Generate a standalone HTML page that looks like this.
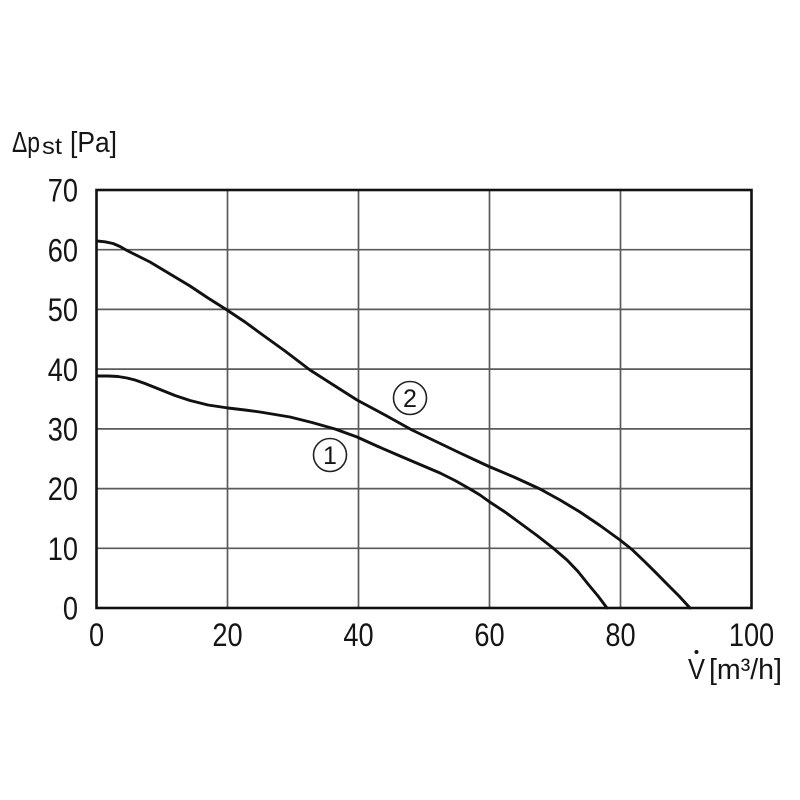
<!DOCTYPE html>
<html><head><meta charset="utf-8"><style>
html,body{margin:0;padding:0;background:#fff;}
svg{display:block;}
text{font-family:"Liberation Sans",sans-serif;fill:#151515;}
</style></head><body>
<svg width="800" height="800" viewBox="0 0 800 800" xmlns="http://www.w3.org/2000/svg">
<rect width="800" height="800" fill="#fff"/>
<g stroke="#5a5a5a" stroke-width="1.7" fill="none">
<line x1="227.5" y1="190" x2="227.5" y2="608"/>
<line x1="358.5" y1="190" x2="358.5" y2="608"/>
<line x1="489.5" y1="190" x2="489.5" y2="608"/>
<line x1="620.5" y1="190" x2="620.5" y2="608"/>
<line x1="96.5" y1="548.3" x2="751.5" y2="548.3"/>
<line x1="96.5" y1="488.6" x2="751.5" y2="488.6"/>
<line x1="96.5" y1="428.9" x2="751.5" y2="428.9"/>
<line x1="96.5" y1="369.1" x2="751.5" y2="369.1"/>
<line x1="96.5" y1="309.4" x2="751.5" y2="309.4"/>
<line x1="96.5" y1="249.7" x2="751.5" y2="249.7"/>
</g>
<rect x="96.5" y="190" width="655" height="418" fill="none" stroke="#111" stroke-width="2.6"/>
<g fill="none" stroke="#111" stroke-width="2.9" stroke-linejoin="round" stroke-linecap="round">
<polyline points="97,241 105,241.8 113,243.5 120,246.5 127,250.5 138,256 150,262 170,274 190,286 208,298 227,310 245,322 260,333 285,351 310,370 335,386 357,400 385,415 412,430 436,441.5 460,453 475,460 489,466.5 515,477.5 540,489 560,500 580,512 600,525.5 620,540 632,549.5 643,560 655,571.8 667,584 679,596 690,608"/>
<polyline points="97,376 108,376 118,376.5 127,378 135,380 145,383.5 155,387.5 165,391.5 175,395.5 190,400.5 208,405 228,408 245,410 260,412 275,414.5 290,417 312,422.5 335,429 357,437 378,446.5 400,456 420,464.5 440,473 455,480.5 470,489 480,495 489,501.5 505,512 520,523 537,535.5 553,548 567,560 578,571.5 588,584 598,596 607,608"/>
</g>
<g fill="none" stroke="#222" stroke-width="1.6">
<circle cx="330" cy="455" r="16.5"/>
<circle cx="410" cy="398" r="16.5"/>
</g>
<text x="330" y="464" font-size="25" text-anchor="middle">1</text>
<text x="410" y="407" font-size="25" text-anchor="middle">2</text>
<g font-size="32" text-anchor="end">
<text transform="translate(78,201.5) scale(0.85,1)">70</text>
<text transform="translate(78,261.5) scale(0.85,1)">60</text>
<text transform="translate(78,321) scale(0.85,1)">50</text>
<text transform="translate(78,381) scale(0.85,1)">40</text>
<text transform="translate(78,440.5) scale(0.85,1)">30</text>
<text transform="translate(78,500) scale(0.85,1)">20</text>
<text transform="translate(78,560) scale(0.85,1)">10</text>
<text transform="translate(78,619.5) scale(0.85,1)">0</text>
</g>
<g font-size="32" text-anchor="middle">
<text transform="translate(96.5,646) scale(0.85,1)">0</text>
<text transform="translate(227.5,646) scale(0.85,1)">20</text>
<text transform="translate(358.5,646) scale(0.85,1)">40</text>
<text transform="translate(489.5,646) scale(0.85,1)">60</text>
<text transform="translate(620.5,646) scale(0.85,1)">80</text>
<text transform="translate(751.5,646) scale(0.85,1)">100</text>
</g>
<text x="12" y="152" font-size="29" textLength="28" lengthAdjust="spacingAndGlyphs">Δp</text>
<text x="42" y="154" font-size="23" textLength="20" lengthAdjust="spacingAndGlyphs">st</text>
<text x="70" y="152" font-size="29" textLength="47" lengthAdjust="spacingAndGlyphs">[Pa]</text>
<text x="688" y="679" font-size="29" textLength="17" lengthAdjust="spacingAndGlyphs">V</text>
<circle cx="696.5" cy="652" r="2" fill="#151515"/>
<text x="709" y="679" font-size="29" textLength="73" lengthAdjust="spacingAndGlyphs">[m³/h]</text>
</svg>
</body></html>
